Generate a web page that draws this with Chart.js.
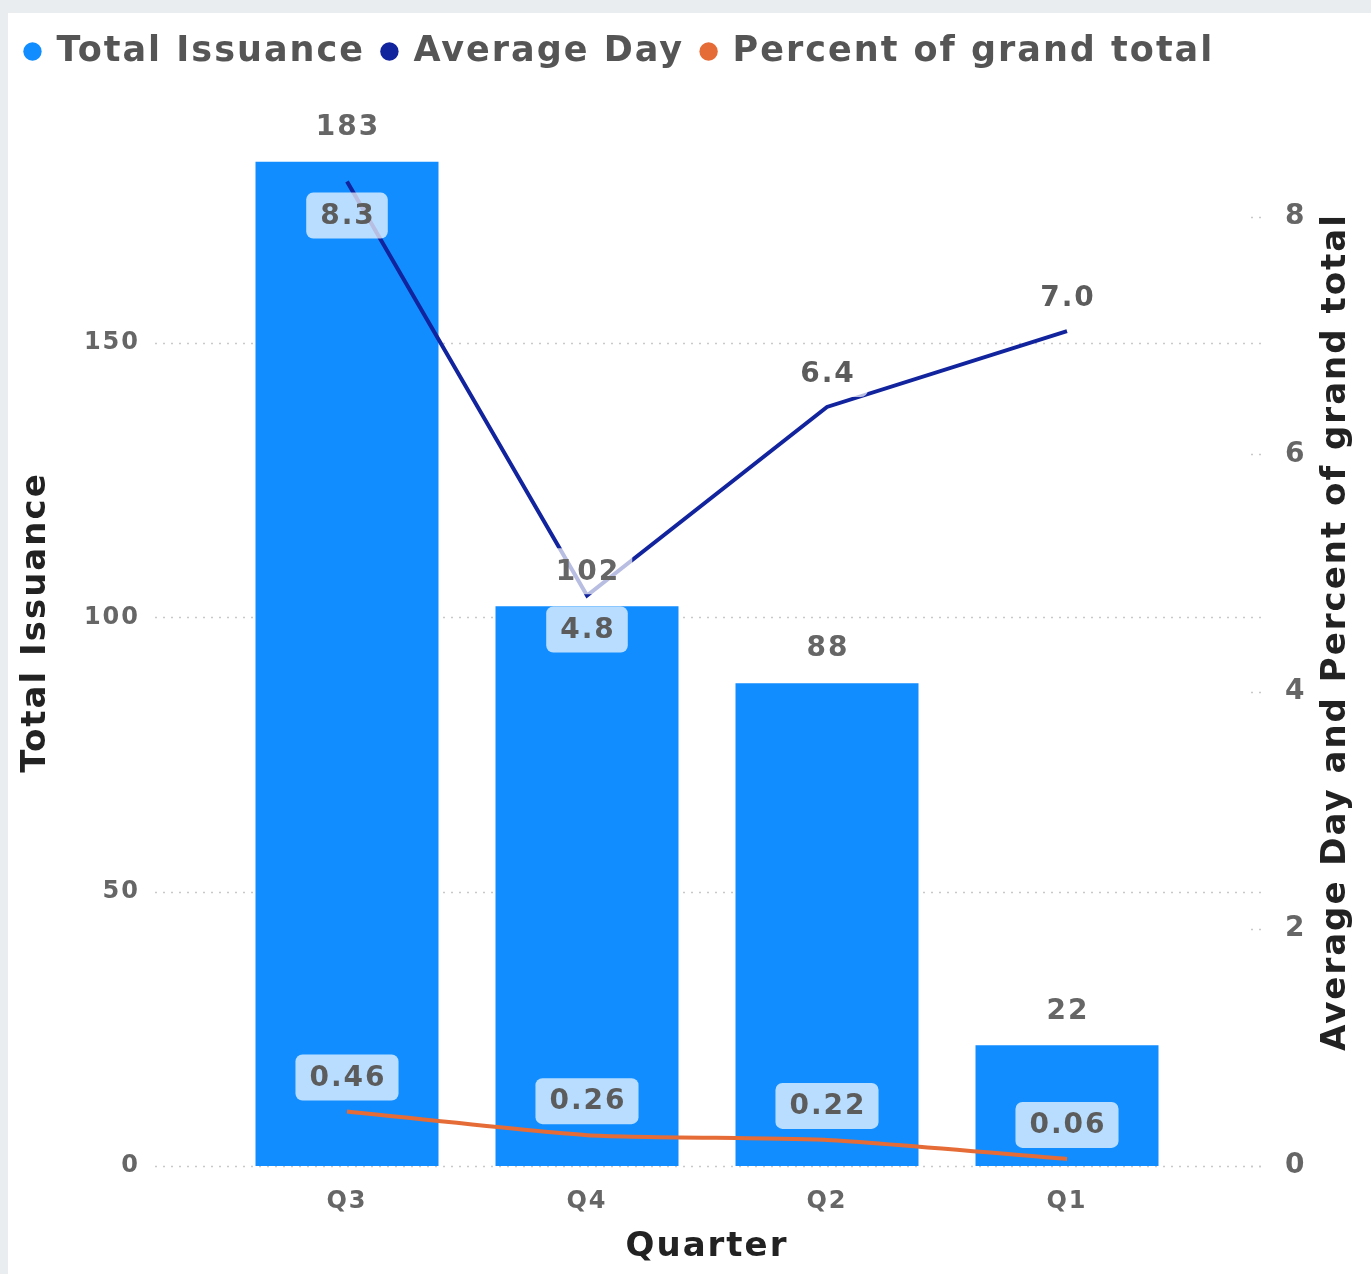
<!DOCTYPE html>
<html>
<head>
<meta charset="utf-8">
<script src="https://cdn.jsdelivr.net/npm/chart.js@4.4.1/dist/chart.umd.min.js"></script>
<style>
  html, body { margin: 0; padding: 0; background: #e9edf0; }
  #wrap { position: absolute; left: 8px; top: 13px; width: 1363px; height: 1261px; background: #fff; }
</style>
</head>
<body>
<div id="wrap"><canvas id="chart"></canvas></div>
<script>
const quarters = ["Q3", "Q4", "Q2", "Q1"];
const totalIssuance = [183, 102, 88, 22];
const averageDay = [8.3, 4.81, 6.4, 7.04];
const percentOfTotal = [0.46, 0.26, 0.22, 0.06];
const leftTicks = [0, 50, 100, 150];
const rightTicks = [0, 2, 4, 6, 8];

const FONT = "'DejaVu Sans', sans-serif";
const BLUE = "#118DFF";
const NAVY = "#12239E";
const ORANGE = "#E66C37";

// the reference text is set wide, so space the letters a bit
const spacing = {
  id: "spacing",
  beforeLayout(chart) { chart.ctx.letterSpacing = "2px"; },
  beforeDraw(chart) { chart.ctx.letterSpacing = "2px"; },
};

const dottedGrid = {
  id: "dottedGrid",
  beforeDatasetsDraw(chart) {
    const { ctx, chartArea, scales } = chart;
    const x0 = chartArea.left - 72;
    const x1 = chartArea.right + 78;
    ctx.save();
    ctx.strokeStyle = "#c9c9c9";
    ctx.lineWidth = 1.5;
    ctx.setLineDash([2, 6]);
    scales.y.ticks.forEach((t) => {
      const py = Math.round(scales.y.getPixelForValue(t.value)) + 0.5;
      ctx.beginPath();
      ctx.moveTo(x0, py);
      ctx.lineTo(x1, py);
      ctx.stroke();
    });
    scales.y1.ticks.forEach((t) => {
      const py = Math.round(scales.y1.getPixelForValue(t.value)) + 0.5;
      ctx.beginPath();
      ctx.moveTo(x1 - 14, py);
      ctx.lineTo(x1, py);
      ctx.stroke();
    });
    ctx.restore();
  },
};

function drawLabel(ctx, text, x, y, color) {
  ctx.font = "bold 28px " + FONT;
  const w = ctx.measureText(text).width + 26;
  const h = 46;
  ctx.fillStyle = "rgba(255,255,255,0.7)";
  ctx.beginPath();
  ctx.roundRect(x - w / 2, y - h / 2, w, h, 7);
  ctx.fill();
  ctx.fillStyle = color;
  ctx.textAlign = "center";
  ctx.textBaseline = "middle";
  ctx.fillText(text, x + 1, y + 1);
}

const dataLabels = {
  id: "dataLabels",
  afterDatasetsDraw(chart) {
    const { ctx } = chart;
    const bars = chart.getDatasetMeta(0).data;
    const avg = chart.getDatasetMeta(1).data;
    const pct = chart.getDatasetMeta(2).data;
    ctx.save();
    const barLabelY = bars.map((b) => b.y - 35);
    bars.forEach((b, i) => drawLabel(ctx, String(totalIssuance[i]), b.x, barLabelY[i], "#666666"));
    avg.forEach((p, i) => {
      let y = p.y - 33;
      if (Math.abs(y - barLabelY[i]) < 40) y = p.y + 34;
      drawLabel(ctx, averageDay[i].toFixed(1), p.x, y, "#5c5c5c");
    });
    pct.forEach((p, i) => drawLabel(ctx, percentOfTotal[i].toFixed(2), p.x, p.y - 34, "#5c5c5c"));
    ctx.restore();
  },
};

// right axis title reads bottom-to-top like the left one
const rightTitle = {
  id: "rightTitle",
  afterDraw(chart) {
    const { ctx, chartArea } = chart;
    ctx.save();
    ctx.translate(chartArea.right + 149, 619);
    ctx.rotate(-Math.PI / 2);
    ctx.font = "bold 34px " + FONT;
    ctx.fillStyle = "#222222";
    ctx.textAlign = "center";
    ctx.textBaseline = "middle";
    ctx.fillText("Average Day and Percent of grand total", 0, 0);
    ctx.restore();
  },
};

new Chart(document.getElementById("chart"), {
  data: {
    labels: quarters,
    datasets: [
      {
        type: "bar",
        label: "Total Issuance",
        data: totalIssuance,
        backgroundColor: BLUE,
        yAxisID: "y",
        order: 3,
        barPercentage: 0.7625,
        categoryPercentage: 1,
      },
      {
        type: "line",
        label: "Average Day",
        data: averageDay,
        borderColor: NAVY,
        backgroundColor: NAVY,
        borderWidth: 4,
        pointRadius: 0,
        tension: 0,
        yAxisID: "y1",
        order: 1,
      },
      {
        type: "line",
        label: "Percent of grand total",
        data: percentOfTotal,
        borderColor: ORANGE,
        backgroundColor: ORANGE,
        borderWidth: 4,
        pointRadius: 0,
        tension: 0.2,
        yAxisID: "y1",
        order: 2,
      },
    ],
  },
  options: {
    responsive: true,
    maintainAspectRatio: false,
    animation: false,
    layout: { padding: { top: 3 } },
    scales: {
      x: {
        grid: { display: false },
        border: { display: false },
        ticks: { color: "#666666", padding: 13, font: { family: FONT, size: 24, weight: "bold" } },
        title: {
          display: true,
          text: "Quarter",
          color: "#222222",
          padding: { top: 0, bottom: 6 },
          font: { family: FONT, size: 34, weight: "bold" },
        },
        afterFit: (s) => { s.height = 108; },
      },
      y: {
        position: "left",
        min: 0,
        max: 198.1,
        grid: { display: false, drawTicks: false },
        border: { display: false },
        ticks: { color: "#666666", padding: 87, font: { family: FONT, size: 24, weight: "bold" } },
        afterBuildTicks: (s) => { s.ticks = leftTicks.map((v) => ({ value: v })); },
        title: {
          display: true,
          text: "Total Issuance",
          color: "#222222",
          padding: { top: 8, bottom: 0 },
          font: { family: FONT, size: 34, weight: "bold" },
        },
        afterFit: (s) => { s.width = 219; s.paddingTop = 0; s.paddingBottom = 0; },
      },
      y1: {
        position: "right",
        min: 0,
        max: 9.165,
        grid: { display: false, drawTicks: false },
        border: { display: false },
        ticks: { color: "#666666", padding: 98, font: { family: FONT, size: 28, weight: "bold" } },
        afterBuildTicks: (s) => { s.ticks = rightTicks.map((v) => ({ value: v })); },
        afterFit: (s) => { s.width = 184; s.paddingTop = 0; s.paddingBottom = 0; },
      },
    },
    plugins: {
      tooltip: { enabled: false },
      legend: {
        position: "top",
        align: "start",
        labels: {
          usePointStyle: true,
          pointStyle: "circle",
          boxWidth: 13,
          boxHeight: 13,
          padding: 18,
          color: "#555555",
          font: { family: FONT, size: 35, weight: "bold" },
          generateLabels: (chart) =>
            Chart.defaults.plugins.legend.labels
              .generateLabels(chart)
              .map((l) => ({ ...l, lineWidth: 0, strokeStyle: l.fillStyle }))
              .sort((a, b) => a.datasetIndex - b.datasetIndex),
        },
      },
    },
  },
  plugins: [spacing, dottedGrid, dataLabels, rightTitle],
});
</script>
</body>
</html>
